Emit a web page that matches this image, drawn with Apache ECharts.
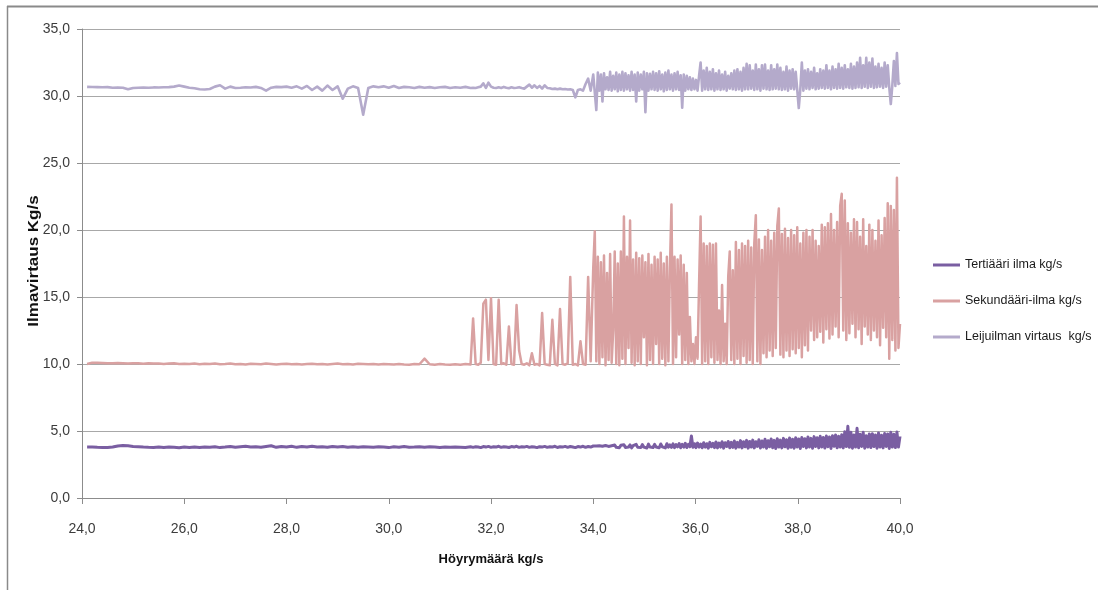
<!DOCTYPE html>
<html>
<head>
<meta charset="utf-8">
<script src="https://cdn.jsdelivr.net/npm/echarts@6/dist/echarts.min.js"></script>
<style>html,body{margin:0;padding:0;background:#fff}#c{width:1098px;height:590px}</style>
</head>
<body>
<div id="c"></div>
<script>
// ---- data ----
const xAxisName = 'Höyrymäärä kg/s';
const yAxisName = 'Ilmavirtaus Kg/s';
const seriesNames = ['Tertiääri ilma kg/s', 'Sekundääri-ilma kg/s', 'Leijuilman virtaus  kg/s'];

const steam = [
24.1,24.2,24.3,24.4,24.5,24.6,24.7,24.8,24.9,25.0,
25.1,25.2,25.3,25.4,25.5,25.6,25.7,25.8,25.9,26.0,
26.1,26.2,26.3,26.4,26.5,26.6,26.7,26.8,26.9,27.0,
27.1,27.2,27.3,27.4,27.5,27.6,27.7,27.8,27.9,28.0,
28.1,28.2,28.3,28.4,28.5,28.6,28.7,28.8,28.9,29.0,
29.1,29.2,29.3,29.4,29.5,29.6,29.7,29.8,29.9,30.0,
30.1,30.2,30.3,30.4,30.5,30.6,30.7,30.8,30.9,31.0,
31.1,31.2,31.3,31.4,31.5,31.6,
31.65,31.7,31.75,31.8,31.85,31.9,31.95,32.0,32.05,32.1,
32.15,32.2,32.25,32.3,32.35,32.4,32.45,32.5,32.55,32.6,
32.65,32.7,32.75,32.8,32.85,32.9,32.95,33.0,33.05,33.1,
33.15,33.2,33.25,33.3,33.35,33.4,33.45,33.5,33.55,33.6,
33.65,33.7,33.75,33.8,33.85,33.9,33.95,34.0,
34.03,34.06,34.09,34.12,34.15,34.18,34.21,34.24,34.27,34.30,
34.33,34.36,34.39,34.42,34.45,34.48,34.51,34.54,34.57,34.60,
34.63,34.66,34.69,34.72,34.75,34.78,34.81,34.84,34.87,34.90,
34.93,34.96,34.99,35.02,35.05,35.08,35.11,35.14,35.17,35.20,
35.23,35.26,35.29,35.32,35.35,35.38,35.41,35.44,35.47,35.50,
35.53,35.56,35.59,35.62,35.65,35.68,35.71,35.74,35.77,35.80,
35.83,35.86,35.89,35.92,35.95,35.98,36.01,36.04,36.07,36.10,
36.13,36.16,36.19,36.22,36.25,36.28,36.31,36.34,36.37,36.40,
36.43,36.46,36.49,36.52,36.55,36.58,36.61,36.64,36.67,36.70,
36.73,36.76,36.79,36.82,36.85,36.88,36.91,36.94,36.97,37.00,
37.03,37.06,37.09,37.12,37.15,37.18,37.21,37.24,37.27,37.30,
37.33,37.36,37.39,37.42,37.45,37.48,37.51,37.54,37.57,37.60,
37.63,37.66,37.69,37.72,37.75,37.78,37.81,37.84,37.87,37.90,
37.93,37.96,37.99,38.02,38.05,38.08,38.11,38.14,38.17,38.20,
38.23,38.26,38.29,38.32,38.35,38.38,38.41,38.44,38.47,38.50,
38.53,38.56,38.59,38.62,38.65,38.68,38.71,38.74,38.77,38.80,
38.83,38.86,38.89,38.92,38.95,38.98,39.01,39.04,39.07,39.10,
39.13,39.16,39.19,39.22,39.25,39.28,39.31,39.34,39.37,39.40,
39.43,39.46,39.49,39.52,39.55,39.58,39.61,39.64,39.67,39.70,
39.73,39.76,39.79,39.82,39.85,39.88,39.91,39.94,39.97,40.00
];

const tertiary = [
3.8,3.8,3.78,3.77,3.77,3.8,3.88,3.92,3.9,3.85,
3.83,3.8,3.78,3.77,3.8,3.76,3.8,3.78,3.75,3.8,
3.77,3.8,3.76,3.8,3.78,3.82,3.76,3.8,3.85,3.78,
3.83,3.86,3.8,3.82,3.78,3.84,3.9,3.78,3.85,3.8,
3.86,3.78,3.84,3.8,3.86,3.8,3.83,3.78,3.85,3.8,
3.84,3.78,3.82,3.79,3.82,3.8,3.78,3.82,3.8,3.76,
3.82,3.78,3.84,3.79,3.8,3.83,3.78,3.82,3.8,3.77,
3.8,3.78,3.8,3.79,3.77,3.82,
3.78,3.82,3.8,3.76,3.84,3.8,3.85,3.78,3.82,3.8,
3.86,3.78,3.83,3.8,3.77,3.84,3.8,3.86,3.78,3.82,
3.8,3.85,3.78,3.82,3.8,3.76,3.83,3.8,3.85,3.78,
3.82,3.8,3.86,3.77,3.83,3.8,3.85,3.78,3.84,3.8,
3.76,3.84,3.8,3.86,3.78,3.84,3.8,3.88,
3.78,3.88,3.75,3.9,3.8,3.86,3.74,3.92,3.8,3.85,
3.76,3.9,3.82,3.95,3.78,3.88,3.75,3.93,3.8,3.98,
3.77,3.9,3.8,3.96,3.74,3.9,3.82,4.0,3.78,3.92,
3.76,3.98,3.8,3.9,3.73,4.02,3.8,3.94,3.77,4.0,
3.8,3.92,3.75,4.03,3.82,3.95,3.74,4.05,3.8,3.96,
3.78,4.04,3.76,3.98,3.82,4.06,3.75,4.0,3.8,4.08,
3.77,4.0,3.82,4.63,3.78,4.05,3.76,4.1,3.8,4.02,
3.75,4.12,3.8,4.05,3.72,4.15,3.82,4.08,3.76,4.18,
3.74,4.1,3.8,4.2,3.72,4.12,3.84,4.22,3.75,4.15,
3.78,4.25,3.72,4.15,3.8,4.28,3.74,4.2,3.82,4.3,
3.72,4.22,3.8,4.32,3.74,4.2,3.85,4.35,3.73,4.25,
3.8,4.38,3.72,4.28,3.82,4.4,3.75,4.3,3.7,4.42,
3.8,4.32,3.74,4.45,3.82,4.35,3.72,4.48,3.78,4.38,
3.72,4.5,3.8,4.4,3.7,4.52,3.84,4.42,3.74,4.55,
3.8,4.45,3.72,4.58,3.85,4.5,3.74,4.6,3.8,4.52,
3.73,4.62,3.82,4.55,3.7,4.65,3.86,4.7,3.75,4.6,
3.8,4.72,3.74,4.95,3.84,5.35,3.78,4.9,3.72,4.7,
3.8,5.2,3.75,4.75,3.85,4.9,3.72,4.65,3.8,4.78,
3.76,4.8,3.84,4.7,3.72,4.85,3.8,4.68,3.74,4.82,
3.85,4.78,3.7,4.9,3.8,4.75,3.76,4.92,3.8,4.6
];

const secondary = [
10.0,10.1,10.1,10.08,10.05,10.05,10.07,10.05,10.03,10.05,
10.05,10.02,10.05,10.03,10.04,10.0,10.03,10.05,10.0,10.02,
10.0,10.03,9.98,10.02,10.0,10.04,9.98,10.0,10.03,9.98,
10.0,9.97,10.02,10.0,9.98,10.03,10.0,9.97,10.0,10.02,
9.98,10.0,9.97,10.0,10.02,9.98,10.0,9.96,10.0,10.03,
9.98,10.0,9.97,10.02,10.0,9.98,10.0,9.96,10.0,9.98,
9.96,10.0,9.97,9.95,10.0,9.98,10.4,9.98,9.95,10.0,
9.96,9.94,9.98,9.95,10.0,9.96,
13.4,10.0,9.95,10.1,14.5,14.8,10.3,14.9,10.0,9.95,
14.8,10.0,10.05,9.95,12.8,10.0,9.95,14.4,11.0,10.0,
9.95,10.05,9.9,10.8,9.95,10.0,9.9,13.8,10.0,9.95,
9.9,13.3,10.0,9.9,14.1,10.0,9.95,10.05,16.5,9.95,
10.0,9.9,11.7,10.0,9.95,16.5,10.2,17.2,
19.9,10.2,18.0,10.0,17.6,10.5,18.1,9.9,16.8,10.3,
18.2,10.1,12.5,18.4,10.0,17.5,9.9,18.4,10.4,21.0,
10.0,18.0,11.2,20.7,10.1,17.8,9.9,18.3,10.2,17.9,
10.0,18.1,12.0,17.6,9.9,18.2,10.3,17.4,10.0,18.0,
11.5,17.8,10.0,18.3,10.4,17.5,9.9,18.0,10.2,17.2,
21.9,10.0,18.0,10.5,17.8,12.2,18.1,10.0,17.4,10.3,
16.8,10.0,13.5,10.2,11.5,10.0,12.0,10.4,16.0,21.0,
10.0,19.0,10.2,18.8,10.0,19.0,10.5,18.9,10.1,19.0,
10.3,14.0,10.0,15.9,10.2,13.0,10.0,16.5,18.4,10.3,
17.0,10.0,19.1,10.4,18.5,10.0,19.0,10.6,18.8,10.1,
19.2,10.3,18.7,10.0,19.0,21.1,10.2,19.3,10.0,18.5,
10.8,19.5,10.5,20.0,11.0,19.2,10.6,19.8,11.2,20.3,
21.6,10.7,19.7,10.5,20.1,11.0,19.4,10.6,20.0,11.1,
19.6,10.8,20.2,11.2,19.0,10.5,19.8,11.4,20.0,11.0,
19.5,12.5,20.0,11.8,19.2,12.0,18.8,12.4,20.4,11.6,
20.2,12.6,20.5,11.9,21.2,12.2,20.0,12.8,20.6,12.0,
21.8,22.7,12.5,22.2,11.8,20.5,12.3,19.8,13.0,20.8,
12.0,20.6,12.6,19.5,11.5,20.8,12.8,18.8,12.2,20.4,
11.8,20.0,12.5,19.2,12.0,20.7,11.4,19.6,12.7,20.9,
12.0,22.0,10.4,21.8,11.8,21.5,11.0,23.9,11.2,13.0
];

const fluidising = [
30.68,30.67,30.66,30.65,30.66,30.62,30.64,30.62,30.5,30.6,
30.62,30.63,30.62,30.64,30.63,30.65,30.66,30.7,30.78,30.7,
30.62,30.58,30.5,30.48,30.52,30.7,30.8,30.55,30.7,30.6,
30.62,30.65,30.63,30.68,30.6,30.4,30.62,30.68,30.66,30.7,
30.62,30.72,30.55,30.75,30.45,30.7,30.4,30.78,30.45,30.72,
29.8,30.55,30.72,30.6,28.6,30.6,30.72,30.65,30.72,30.62,
30.75,30.6,30.68,30.65,30.6,30.68,30.62,30.66,30.6,30.65,
30.68,30.6,30.65,30.62,30.68,30.6,
30.62,30.6,30.65,30.7,30.95,30.6,31.0,30.7,30.62,30.6,
30.65,30.6,30.68,30.62,30.58,30.65,30.6,30.62,30.66,30.6,
30.55,30.7,30.85,30.62,30.8,30.6,30.75,30.55,30.8,30.6,
30.58,30.52,30.55,30.5,30.55,30.5,30.52,30.48,30.5,30.45,
29.9,30.45,30.5,30.4,30.9,31.3,30.4,31.6,
31.7,28.95,31.75,30.4,31.6,29.6,31.7,30.5,31.4,30.45,
31.8,30.4,31.5,30.5,31.75,30.35,31.6,30.45,31.8,30.4,
31.7,30.5,31.55,30.4,31.8,30.45,31.6,29.6,31.75,30.4,
31.6,30.5,31.8,28.8,31.7,30.4,31.65,30.5,31.8,30.45,
31.7,30.4,31.85,30.5,31.6,30.35,31.75,30.45,31.9,30.5,
31.6,30.4,31.7,30.5,31.8,30.45,31.55,29.13,31.6,30.4,
31.5,30.5,31.4,30.45,31.3,30.5,31.2,30.4,31.5,32.5,
30.4,31.9,30.5,32.1,30.45,31.8,30.5,32.0,30.4,31.7,
30.5,31.9,30.45,31.6,30.5,31.8,30.4,31.5,30.55,31.7,
30.5,31.9,30.45,32.0,30.5,31.8,30.4,32.1,30.5,32.4,
30.5,32.3,30.55,31.9,30.45,32.35,30.5,32.0,30.4,32.3,
30.55,32.35,30.5,31.9,30.45,32.3,30.5,32.0,30.55,32.35,
30.5,32.1,30.45,31.8,30.5,32.2,30.4,31.9,30.55,32.0,
30.5,31.8,30.45,29.1,30.5,32.5,30.4,31.9,30.55,32.0,
30.5,31.8,30.6,32.1,30.5,31.7,30.55,32.0,30.6,31.9,
30.55,32.3,30.6,31.9,30.5,32.2,30.6,32.0,30.55,32.4,
30.6,32.1,30.55,32.3,30.65,32.0,30.6,32.4,30.55,32.2,
30.6,32.5,30.65,32.85,30.6,32.3,30.7,32.85,30.6,32.5,
30.7,32.8,30.6,32.2,30.65,32.4,30.7,32.1,30.6,32.5,
30.7,32.3,30.65,29.4,30.8,32.6,30.75,33.2,30.9,31.0
];

const xTicks = { min: 24, max: 40, interval: 2 };
const yTicks = { min: 0, max: 35, interval: 5 };
const colors = ['#7a5ea2', '#d9a1a1', '#b4aacb'];

// ---- chart ----
const font = "'Liberation Sans', Arial, sans-serif";
const fmt = v => v.toFixed(1).replace('.', ',');
const pairs = arr => steam.map((x, i) => [x, arr[i]]);
const values = [tertiary, secondary, fluidising];
const widths = [3, 2.5, 2.6];

const chart = echarts.init(document.getElementById('c'), null, { renderer: 'canvas' });
const lenOk = values.every(a => a.length === steam.length);

chart.setOption({
  animation: false,
  backgroundColor: '#fff',
  color: colors,
  title: lenOk ? undefined : { text: 'LEN ' + steam.length + ' ' + tertiary.length + ' ' + secondary.length + ' ' + fluidising.length, left: 300, top: 100 },
  grid: { left: 82, right: 198, top: 29, bottom: 92, containLabel: false },
  graphic: [
    { type: 'line', shape: { x1: 7, y1: 6.5, x2: 1098, y2: 6.5 }, style: { stroke: '#8a8a8a', lineWidth: 2 } },
    { type: 'line', shape: { x1: 7.5, y1: 6, x2: 7.5, y2: 590 }, style: { stroke: '#8a8a8a', lineWidth: 1.5 } },
    { type: 'text', x: 34, y: 261, rotation: Math.PI / 2, scaleY: 0.82,
      style: { text: yAxisName, font: "bold 17px 'Liberation Sans', sans-serif", fill: '#111', align: 'center', verticalAlign: 'middle' } }
  ],
  legend: {
    orient: 'vertical', left: 933, top: 256, padding: 0, itemWidth: 27, itemHeight: 3, itemGap: 18, icon: 'rect',
    textStyle: { fontFamily: font, fontSize: 12.5, color: '#1a1a1a', lineHeight: 18 },
    data: seriesNames
  },
  xAxis: {
    type: 'value', min: xTicks.min, max: xTicks.max, interval: xTicks.interval,
    name: xAxisName, nameLocation: 'middle', nameGap: 55,
    nameTextStyle: { fontFamily: font, fontSize: 13, fontWeight: 'bold', color: '#111' },
    axisLine: { show: true, lineStyle: { color: '#8c8c8c', width: 1 } },
    axisTick: { show: true, length: 6, lineStyle: { color: '#8c8c8c' } },
    axisLabel: { formatter: fmt, fontFamily: font, fontSize: 14, color: '#3c3c3c', margin: 24 },
    splitLine: { show: false }
  },
  yAxis: {
    type: 'value', min: yTicks.min, max: yTicks.max, interval: yTicks.interval,
    axisLine: { show: true, lineStyle: { color: '#8c8c8c', width: 1 } },
    axisTick: { show: true, length: 5, lineStyle: { color: '#8c8c8c' } },
    axisLabel: { formatter: fmt, fontFamily: font, fontSize: 14, color: '#3c3c3c', margin: 12 },
    splitLine: { show: true, lineStyle: { color: '#a8a8a8', width: 1 } }
  },
  series: seriesNames.map((n, k) => ({
    name: n, type: 'line', data: pairs(values[k]), showSymbol: false, symbol: 'none',
    lineStyle: { width: widths[k], color: colors[k], join: 'round' },
    itemStyle: { color: colors[k] }, z: 2 + k
  }))
});
</script>
</body>
</html>
